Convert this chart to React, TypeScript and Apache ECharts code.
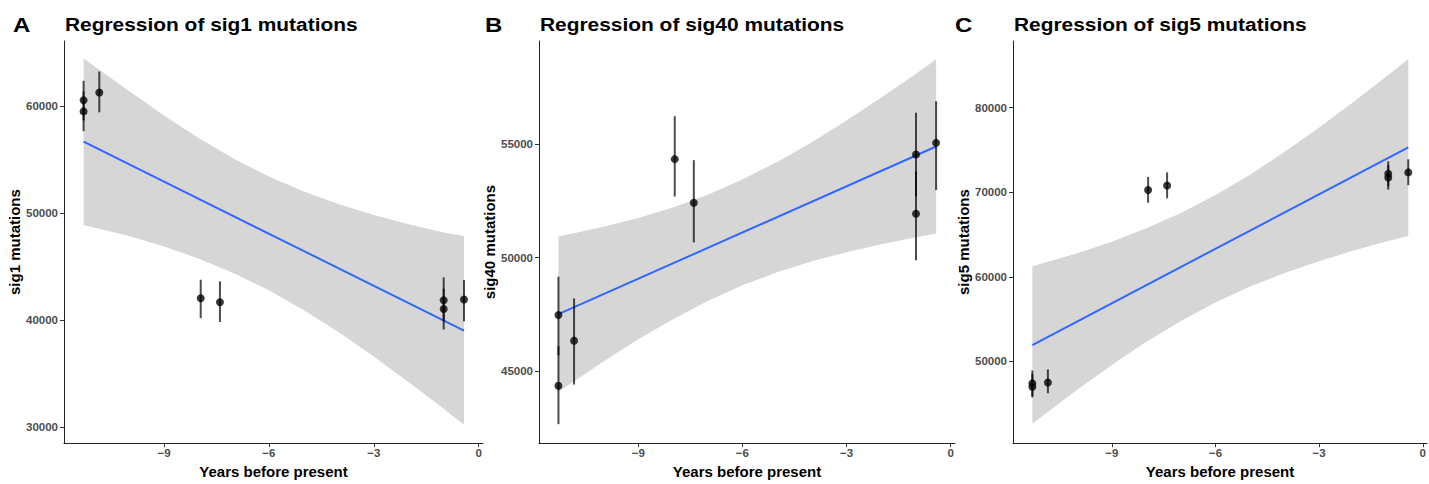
import React, { useEffect, useRef } from "react";
import * as echarts from "echarts";

// Sample ages (years before present), shared by all three signatures
const years = [-11.3, -11.3, -10.85, -7.95, -7.4, -1.0, -1.0, -0.42];

// sig1 mutation counts with their interval bounds
const sig1 = [60576, 59540, 61310, 42040, 41670, 41860, 41030, 41920];
const sig1Lo = [58700, 57680, 59450, 40180, 39820, 39900, 39110, 39880];
const sig1Hi = [62400, 61400, 63270, 43780, 43630, 44000, 42950, 43750];

// sig40 mutation counts with their interval bounds
const sig40 = [47474, 44355, 46343, 54342, 52422, 54544, 51936, 55060];
const sig40Lo = [45700, 42663, 44410, 52694, 50671, 52700, 49884, 52978];
const sig40Hi = [49165, 46100, 48206, 56235, 54297, 56390, 53800, 56893];

// sig5 mutation counts with their interval bounds
const sig5 = [47400, 47000, 47494, 70266, 70808, 72194, 71732, 72350];
const sig5Lo = [45900, 45728, 46224, 68764, 69284, 70700, 70312, 70843];
const sig5Hi = [48926, 48500, 49042, 71813, 72350, 73657, 73200, 73888];

// Fitted regression line end points
const fitX = [-11.3, -0.42];
const sig1Fit = [56700, 39020];
const sig40Fit = [47510, 54900];
const sig5Fit = [51928, 75300];

// Confidence band of each fit
const bandX = [-11.3, -10, -9, -8, -7, -6, -5, -4, -3, -2, -1, -0.42];
const sig1BandHi = [64500, 61460, 59160, 57020, 55110, 53440, 52030, 50850, 49840, 48970, 48200, 47860];
const sig1BandLo = [48900, 47860, 46890, 45750, 44390, 42790, 40930, 38850, 36580, 34180, 31690, 30200];
const sig40BandHi = [50930, 51360, 51750, 52210, 52770, 53440, 54220, 55090, 56050, 57060, 58110, 58740];
const sig40BandLo = [44090, 45430, 46400, 47290, 48090, 48780, 49360, 49840, 50240, 50590, 50900, 51060];
const sig5BandHi = [61240, 62790, 64160, 65730, 67550, 69670, 72080, 74770, 77660, 80710, 83880, 85760];
const sig5BandLo = [42620, 46650, 49580, 52310, 54780, 56960, 58840, 60450, 61850, 63100, 64230, 64840];

// Tick labels
const xTicks = [-9, -6, -3, 0];
const sig1Ticks = [30000, 40000, 50000, 60000];
const sig40Ticks = [45000, 50000, 55000];
const sig5Ticks = [50000, 60000, 70000, 80000];

const FONT = "'Liberation Sans', Arial, sans-serif";

type Panel = {
  letter: string;
  title: string;
  yName: string;
  values: number[];
  lo: number[];
  hi: number[];
  fit: number[];
  bandHi: number[];
  bandLo: number[];
  yTicks: number[];
  yMin: number;
  yMax: number;
  left: number;
  width: number;
  letterX: number;
};

const panels: Panel[] = [
  {
    letter: "A", title: "Regression of sig1 mutations", yName: "sig1 mutations",
    values: sig1, lo: sig1Lo, hi: sig1Hi, fit: sig1Fit,
    bandHi: sig1BandHi, bandLo: sig1BandLo, yTicks: sig1Ticks,
    yMin: 28480, yMax: 66130, left: 64, width: 419, letterX: 13,
  },
  {
    letter: "B", title: "Regression of sig40 mutations", yName: "sig40 mutations",
    values: sig40, lo: sig40Lo, hi: sig40Hi, fit: sig40Fit,
    bandHi: sig40BandHi, bandLo: sig40BandLo, yTicks: sig40Ticks,
    yMin: 41829, yMax: 59548, left: 539, width: 416, letterX: 485,
  },
  {
    letter: "C", title: "Regression of sig5 mutations", yName: "sig5 mutations",
    values: sig5, lo: sig5Lo, hi: sig5Hi, fit: sig5Fit,
    bandHi: sig5BandHi, bandLo: sig5BandLo, yTicks: sig5Ticks,
    yMin: 40335, yMax: 87887, left: 1013, width: 416, letterX: 955,
  },
];

const TOP = 41;
const HEIGHT = 412;

function buildOption() {
  const grid: any[] = [];
  const xAxis: any[] = [];
  const yAxis: any[] = [];
  const series: any[] = [];
  const graphic: any[] = [];

  const tickLabel = {
    color: "#4d4d4d",
    fontWeight: "bold",
    fontSize: 11.5,
    fontFamily: FONT,
  };
  const axisName = {
    color: "#000",
    fontWeight: "bold",
    fontSize: 15,
    fontFamily: FONT,
  };

  panels.forEach((p, i) => {
    grid.push({ left: p.left, top: TOP, width: p.width, height: HEIGHT, containLabel: false });

    xAxis.push({
      type: "value",
      gridIndex: i,
      min: -11.86,
      max: 0.124,
      splitLine: { show: false },
      axisLine: { show: true, onZero: false, lineStyle: { color: "#222", width: 1 } },
      axisTick: { show: true, length: 4, customValues: xTicks, lineStyle: { color: "#333" } },
      axisLabel: {
        ...tickLabel,
        customValues: xTicks,
        margin: 4,
        formatter: (v: number) => String(v).replace("-", "\u2212"),
      },
      name: "Years before present",
      nameLocation: "middle",
      nameGap: 16,
      nameTextStyle: axisName,
    });

    yAxis.push({
      type: "value",
      gridIndex: i,
      min: p.yMin,
      max: p.yMax,
      splitLine: { show: false },
      axisLine: { show: true, onZero: false, lineStyle: { color: "#222", width: 1 } },
      axisTick: { show: true, length: 4, customValues: p.yTicks, lineStyle: { color: "#333" } },
      axisLabel: {
        ...tickLabel,
        customValues: p.yTicks,
        margin: 6,
        formatter: (v: number) => String(v),
      },
      name: p.yName,
      nameLocation: "middle",
      nameGap: 38,
      nameTextStyle: axisName,
    });

    // confidence band
    const bandRows = bandX.map((x, k) => [x, p.bandLo[k], p.bandHi[k]]);
    series.push({
      type: "custom",
      xAxisIndex: i,
      yAxisIndex: i,
      data: bandRows,
      encode: { x: 0, y: [1, 2] },
      silent: true,
      z: 1,
      renderItem: (params: any, api: any) => {
        if (params.dataIndex !== 0) return null;
        const upper = bandRows.map((r) => api.coord([r[0], r[2]]));
        const lower = bandRows.map((r) => api.coord([r[0], r[1]])).reverse();
        return {
          type: "polygon",
          shape: { points: upper.concat(lower) },
          style: { fill: "#d6d6d6", stroke: "none" },
        };
      },
    });

    // regression line
    series.push({
      type: "line",
      xAxisIndex: i,
      yAxisIndex: i,
      data: fitX.map((x, k) => [x, p.fit[k]]),
      showSymbol: false,
      lineStyle: { color: "#3366FF", width: 2 },
      silent: true,
      z: 2,
    });

    // points with interval bars
    series.push({
      type: "custom",
      xAxisIndex: i,
      yAxisIndex: i,
      data: years.map((x, k) => [x, p.values[k], p.lo[k], p.hi[k]]),
      encode: { x: 0, y: [1, 2, 3] },
      silent: true,
      z: 3,
      renderItem: (_params: any, api: any) => {
        const x = api.value(0);
        const c = api.coord([x, api.value(1)]);
        const l = api.coord([x, api.value(2)]);
        const h = api.coord([x, api.value(3)]);
        return {
          type: "group",
          children: [
            {
              type: "line",
              shape: { x1: c[0], y1: l[1], x2: c[0], y2: h[1] },
              style: { stroke: "rgba(0,0,0,0.7)", lineWidth: 2 },
            },
            {
              type: "circle",
              shape: { cx: c[0], cy: c[1], r: 4 },
              style: { fill: "rgba(0,0,0,0.78)" },
            },
          ],
        };
      },
    });

    graphic.push({
      type: "text",
      x: p.letterX,
      y: 25,
      scaleX: 1.2,
      style: {
        text: p.letter,
        font: `bold 20px ${FONT}`,
        fill: "#000",
        verticalAlign: "middle",
      },
    });
    graphic.push({
      type: "text",
      x: p.left + 1,
      y: 24,
      scaleX: 1.1,
      style: {
        text: p.title,
        font: `bold 19px ${FONT}`,
        fill: "#000",
        verticalAlign: "middle",
      },
    });
  });

  return {
    animation: false,
    backgroundColor: "#fff",
    grid,
    xAxis,
    yAxis,
    series,
    graphic,
  };
}

export default function App() {
  const ref = useRef<HTMLDivElement>(null);

  useEffect(() => {
    if (!ref.current) return;
    const chart = echarts.init(ref.current, undefined, { renderer: "svg" });
    chart.setOption(buildOption());
    return () => chart.dispose();
  }, []);

  return (
    <div
      ref={ref}
      style={{ position: "absolute", left: 0, top: 0, width: 1429, height: 484 }}
    />
  );
}
